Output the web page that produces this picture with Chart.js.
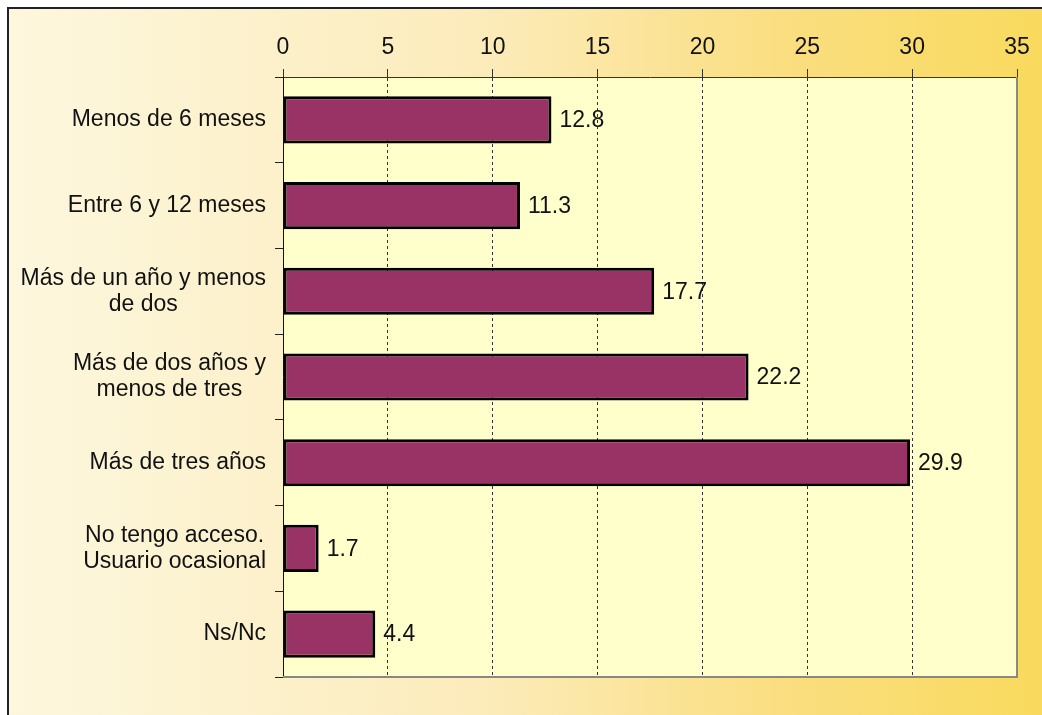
<!DOCTYPE html>
<html>
<head>
<meta charset="utf-8">
<script src="https://cdn.jsdelivr.net/npm/chart.js@4.4.1/dist/chart.umd.min.js"></script>
<style>
  html, body { margin: 0; padding: 0; background: #fff; }
  #wrap { width: 1042px; height: 715px; position: relative; }
</style>
</head>
<body>
<div id="wrap"><canvas id="chart" width="1042" height="715"></canvas></div>
<script>
/* global Chart */

const CATEGORIES = [
  ["Menos de 6 meses"],
  ["Entre 6 y 12 meses"],
  ["Más de un año y menos", "de dos"],
  ["Más de dos años y", "menos de tres"],
  ["Más de tres años"],
  ["No tengo acceso.", "Usuario ocasional"],
  ["Ns/Nc"],
];
const VALUES = [12.8, 11.3, 17.7, 22.2, 29.9, 1.7, 4.4];
const X_MIN = 0;
const X_MAX = 35;
const X_STEP = 5;

const FONT = "'Liberation Sans', Arial, sans-serif";
const FONT_SIZE = 23;
const BAR_FILL = "#993366";
const PLOT_FILL = "#FFFFCC";

// page background, plot area fill and frame
const backdrop = {
  id: "backdrop",
  beforeDraw(chart) {
    const { ctx, width, height, chartArea: a } = chart;
    ctx.save();
    ctx.fillStyle = "#ffffff";
    ctx.fillRect(0, 0, width, height);
    const g = ctx.createLinearGradient(8, 0, width, 0);
    g.addColorStop(0, "#FDF7DE");
    g.addColorStop(0.45, "#FCECBC");
    g.addColorStop(0.75, "#FADE80");
    g.addColorStop(1, "#F9DA5E");
    ctx.fillStyle = g;
    ctx.fillRect(8, 8, width, height);
    ctx.strokeStyle = "#222";
    ctx.lineWidth = 2;
    ctx.beginPath();
    ctx.moveTo(8, height + 2);
    ctx.lineTo(8, 8);
    ctx.lineTo(width + 2, 8);
    ctx.stroke();
    ctx.fillStyle = PLOT_FILL;
    ctx.fillRect(a.left, a.top, a.right - a.left, a.bottom - a.top);
    ctx.restore();
  },
  afterDraw(chart) {
    const { ctx, chartArea: a } = chart;
    ctx.save();
    ctx.strokeStyle = "#888";
    ctx.lineWidth = 2;
    ctx.beginPath();
    ctx.moveTo(a.right, a.top);
    ctx.lineTo(a.right, a.bottom);
    ctx.lineTo(a.left, a.bottom);
    ctx.stroke();
    ctx.restore();
  },
};

// category labels: block right-aligned, lines centred inside the block
const catLabels = {
  id: "catLabels",
  afterDraw(chart) {
    const { ctx, chartArea: a } = chart;
    const y = chart.scales.y;
    const lineH = 26;
    ctx.save();
    ctx.font = `${FONT_SIZE}px ${FONT}`;
    ctx.fillStyle = "#111";
    ctx.textAlign = "center";
    ctx.textBaseline = "middle";
    CATEGORIES.forEach((lines, i) => {
      const maxW = Math.max(...lines.map((l) => ctx.measureText(l).width));
      const cx = a.left - 17 - maxW / 2;
      const cy = y.getPixelForValue(i);
      const top = cy - ((lines.length - 1) * lineH) / 2;
      lines.forEach((l, k) => ctx.fillText(l, cx, top + k * lineH));
    });
    ctx.restore();
  },
};

// value labels to the right of each bar
const valueLabels = {
  id: "valueLabels",
  afterDatasetsDraw(chart) {
    const { ctx } = chart;
    const meta = chart.getDatasetMeta(0);
    ctx.save();
    ctx.font = `${FONT_SIZE}px ${FONT}`;
    ctx.fillStyle = "#111";
    ctx.textAlign = "left";
    ctx.textBaseline = "middle";
    meta.data.forEach((bar, i) => {
      ctx.fillText(VALUES[i].toFixed(1), bar.x + 8, bar.y + 1);
    });
    ctx.restore();
  },
};

new Chart(document.getElementById("chart").getContext("2d"), {
  type: "bar",
  data: {
    labels: CATEGORIES.map((c) => c.join(" ")),
    datasets: [{
      data: VALUES,
      backgroundColor: BAR_FILL,
      borderColor: "#000",
      borderWidth: 3,
      borderSkipped: false,
      barPercentage: 0.55,
      categoryPercentage: 1,
    }],
  },
  options: {
    indexAxis: "y",
    responsive: false,
    animation: false,
    devicePixelRatio: 1,
    layout: { padding: { left: 0, top: 0, right: 25, bottom: 38 } },
    plugins: { legend: { display: false }, tooltip: { enabled: false } },
    scales: {
      x: {
        position: "top",
        min: X_MIN,
        max: X_MAX,
        afterFit: (s) => { s.height = 77; },
        ticks: {
          stepSize: X_STEP,
          color: "#111",
          font: { family: FONT, size: FONT_SIZE },
          padding: 8,
        },
        grid: {
          color: "#333",
          lineWidth: 1,
          tickLength: 8,
          tickColor: "#333",
        },
        border: { display: true, color: "#333", width: 1, dash: [3, 3] },
      },
      y: {
        afterFit: (s) => { s.width = 283; },
        ticks: { display: false },
        grid: {
          offset: true,
          drawOnChartArea: false,
          tickLength: 8,
          tickColor: "#222",
        },
        border: { display: true, color: "#111", width: 1 },
      },
    },
  },
  plugins: [backdrop, valueLabels, catLabels],
});
</script>
</body>
</html>
